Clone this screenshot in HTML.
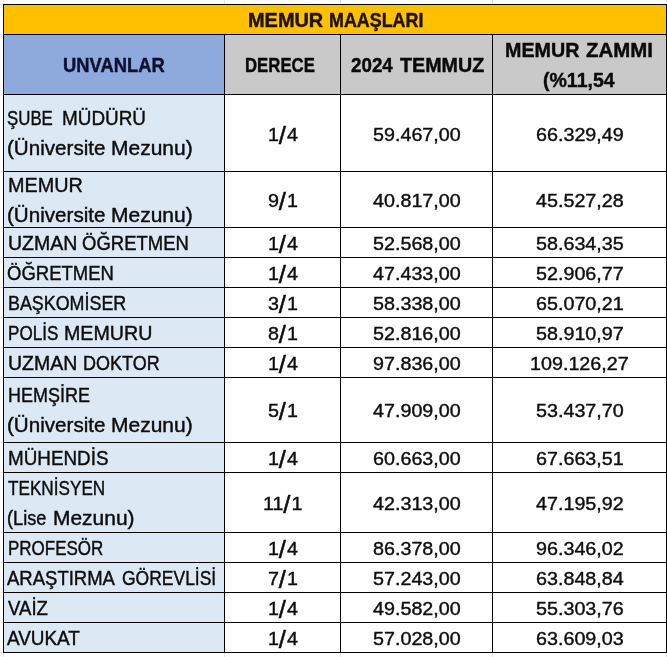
<!DOCTYPE html>
<html><head><meta charset="utf-8"><title>Memur Maaşları</title>
<style>
html,body{margin:0;padding:0;background:#fff;}
body{width:667px;height:657px;position:relative;overflow:hidden;font-family:"Liberation Sans",sans-serif;}
.bg{position:absolute;}
.h{position:absolute;height:1px;background:#000;}
.v{position:absolute;width:1px;background:#000;}
.t{position:absolute;white-space:nowrap;line-height:30px;height:30px;transform-origin:0 21px;font-size:19.0px;-webkit-text-stroke:0.4px currentColor;}
.b{font-weight:bold;}
.s{margin:0 1.25px;display:inline-block;transform:translate(-0.8px,2.4px) scale(1.3,1.25);transform-origin:50% 60%;}
#tx{position:absolute;left:0;top:0;width:667px;height:657px;will-change:transform;}
</style></head><body>

<div class="bg" style="left:3px;top:4px;width:664px;height:31px;background:#FFC000"></div>
<div class="bg" style="left:3px;top:34px;width:222px;height:61px;background:#8EA9DB"></div>
<div class="bg" style="left:224px;top:34px;width:443px;height:61px;background:#C9C9C9"></div>
<div class="bg" style="left:3px;top:94px;width:222px;height:559px;background:#DCE9F5"></div>
<div class="v" style="left:3px;top:0;height:4px;background:#e4e4e4"></div>
<div class="v" style="left:3px;top:653px;height:4px;background:#e4e4e4"></div>
<div class="v" style="left:224px;top:0;height:4px;background:#e4e4e4"></div>
<div class="v" style="left:224px;top:653px;height:4px;background:#e4e4e4"></div>
<div class="v" style="left:340px;top:0;height:4px;background:#e4e4e4"></div>
<div class="v" style="left:340px;top:653px;height:4px;background:#e4e4e4"></div>
<div class="v" style="left:492px;top:0;height:4px;background:#e4e4e4"></div>
<div class="v" style="left:492px;top:653px;height:4px;background:#e4e4e4"></div>
<div class="v" style="left:666px;top:0;height:4px;background:#e4e4e4"></div>
<div class="v" style="left:666px;top:653px;height:4px;background:#e4e4e4"></div>
<div class="h" style="left:0;top:4px;width:3px;background:#e4e4e4"></div>
<div class="h" style="left:0;top:34px;width:3px;background:#e4e4e4"></div>
<div class="h" style="left:0;top:94px;width:3px;background:#e4e4e4"></div>
<div class="h" style="left:0;top:171px;width:3px;background:#e4e4e4"></div>
<div class="h" style="left:0;top:227px;width:3px;background:#e4e4e4"></div>
<div class="h" style="left:0;top:257px;width:3px;background:#e4e4e4"></div>
<div class="h" style="left:0;top:287px;width:3px;background:#e4e4e4"></div>
<div class="h" style="left:0;top:317px;width:3px;background:#e4e4e4"></div>
<div class="h" style="left:0;top:347px;width:3px;background:#e4e4e4"></div>
<div class="h" style="left:0;top:377px;width:3px;background:#e4e4e4"></div>
<div class="h" style="left:0;top:442px;width:3px;background:#e4e4e4"></div>
<div class="h" style="left:0;top:472px;width:3px;background:#e4e4e4"></div>
<div class="h" style="left:0;top:532px;width:3px;background:#e4e4e4"></div>
<div class="h" style="left:0;top:562px;width:3px;background:#e4e4e4"></div>
<div class="h" style="left:0;top:592px;width:3px;background:#e4e4e4"></div>
<div class="h" style="left:0;top:622px;width:3px;background:#e4e4e4"></div>
<div class="h" style="left:0;top:652px;width:3px;background:#e4e4e4"></div>
<div class="h" style="left:3px;top:4px;width:664px"></div>
<div class="h" style="left:3px;top:34px;width:664px"></div>
<div class="h" style="left:3px;top:94px;width:664px"></div>
<div class="h" style="left:3px;top:171px;width:664px"></div>
<div class="h" style="left:3px;top:227px;width:664px"></div>
<div class="h" style="left:3px;top:257px;width:664px"></div>
<div class="h" style="left:3px;top:287px;width:664px"></div>
<div class="h" style="left:3px;top:317px;width:664px"></div>
<div class="h" style="left:3px;top:347px;width:664px"></div>
<div class="h" style="left:3px;top:377px;width:664px"></div>
<div class="h" style="left:3px;top:442px;width:664px"></div>
<div class="h" style="left:3px;top:472px;width:664px"></div>
<div class="h" style="left:3px;top:532px;width:664px"></div>
<div class="h" style="left:3px;top:562px;width:664px"></div>
<div class="h" style="left:3px;top:592px;width:664px"></div>
<div class="h" style="left:3px;top:622px;width:664px"></div>
<div class="h" style="left:3px;top:652px;width:664px"></div>
<div class="v" style="left:3px;top:4px;height:649px"></div>
<div class="v" style="left:224px;top:34px;height:619px"></div>
<div class="v" style="left:340px;top:34px;height:619px"></div>
<div class="v" style="left:492px;top:34px;height:619px"></div>
<div class="v" style="left:666px;top:4px;height:649px"></div>
<div id="tx">
<div class="t b" style="left:248.05px;top:6px;color:#1d1206;transform:scale(1.0486,1.04)">MEMUR</div>
<div class="t b" style="left:329.06px;top:6px;color:#1d1206;transform:scale(0.9418,1.04)">MAAŞLARI</div>
<div class="t b" style="left:63.03px;top:51px;color:#0b1030;transform:scale(0.9673,1.04)">UNVANLAR</div>
<div class="t b" style="left:245.42px;top:51px;color:#0a0a0a;transform:scale(0.8821,1.04)">DERECE</div>
<div class="t b" style="left:350.80px;top:51px;color:#0a0a0a;transform:scale(0.9884,1.04)">2024</div>
<div class="t b" style="left:399.50px;top:51px;color:#0a0a0a;transform:scale(1.0358,1.04)">TEMMUZ</div>
<div class="t b" style="left:505.46px;top:36px;color:#0a0a0a;transform:scale(1.0371,1.04)">MEMUR</div>
<div class="t b" style="left:586.20px;top:36px;color:#0a0a0a;transform:scale(1.0738,1.04)">ZAMMI</div>
<div class="t b" style="left:543.37px;top:66px;color:#0a0a0a;transform:scale(1.0275,1.04)">(%11,54</div>
<div class="t" style="left:7.11px;top:104px;color:#0d0d0d;transform:scale(0.8860,1.04)">ŞUBE</div>
<div class="t" style="left:62.20px;top:104px;color:#0d0d0d;transform:scale(0.9951,1.04)">MÜDÜRÜ</div>
<div class="t" style="left:7.31px;top:134px;color:#0d0d0d;transform:scale(1.0854,1.04)">(Üniversite</div>
<div class="t" style="left:111.20px;top:134px;color:#0d0d0d;transform:scale(1.1042,1.04)">Mezunu)</div>
<div class="t" style="left:7.66px;top:171px;color:#0d0d0d;transform:scale(1.0429,1.04)">MEMUR</div>
<div class="t" style="left:7.31px;top:201px;color:#0d0d0d;transform:scale(1.0854,1.04)">(Üniversite</div>
<div class="t" style="left:111.20px;top:201px;color:#0d0d0d;transform:scale(1.1042,1.04)">Mezunu)</div>
<div class="t" style="left:7.67px;top:229px;color:#0d0d0d;transform:scale(1.0277,1.04)">UZMAN</div>
<div class="t" style="left:82.03px;top:229px;color:#0d0d0d;transform:scale(0.9741,1.04)">ÖĞRETMEN</div>
<div class="t" style="left:7.13px;top:259px;color:#0d0d0d;transform:scale(0.9741,1.04)">ÖĞRETMEN</div>
<div class="t" style="left:7.56px;top:289px;color:#0d0d0d;transform:scale(0.9411,1.04)">BAŞKOMİSER</div>
<div class="t" style="left:7.60px;top:319px;color:#0d0d0d;transform:scale(0.8981,1.04)">POLİS</div>
<div class="t" style="left:64.17px;top:319px;color:#0d0d0d;transform:scale(1.0337,1.04)">MEMURU</div>
<div class="t" style="left:7.67px;top:349px;color:#0d0d0d;transform:scale(1.0262,1.04)">UZMAN</div>
<div class="t" style="left:83.35px;top:349px;color:#0d0d0d;transform:scale(0.9468,1.04)">DOKTOR</div>
<div class="t" style="left:7.65px;top:381px;color:#0d0d0d;transform:scale(0.9459,1.04)">HEMŞİRE</div>
<div class="t" style="left:7.31px;top:411px;color:#0d0d0d;transform:scale(1.0854,1.04)">(Üniversite</div>
<div class="t" style="left:111.20px;top:411px;color:#0d0d0d;transform:scale(1.1042,1.04)">Mezunu)</div>
<div class="t" style="left:7.71px;top:444px;color:#0d0d0d;transform:scale(0.9920,1.04)">MÜHENDİS</div>
<div class="t" style="left:7.90px;top:474px;color:#0d0d0d;transform:scale(0.9028,1.04)">TEKNİSYEN</div>
<div class="t" style="left:7.44px;top:504px;color:#0d0d0d;transform:scale(0.9575,1.04)">(Lise</div>
<div class="t" style="left:53.30px;top:504px;color:#0d0d0d;transform:scale(1.1028,1.04)">Mezunu)</div>
<div class="t" style="left:7.61px;top:534px;color:#0d0d0d;transform:scale(0.8943,1.04)">PROFESÖR</div>
<div class="t" style="left:7.30px;top:564px;color:#0d0d0d;transform:scale(0.9739,1.04)">ARAŞTIRMA</div>
<div class="t" style="left:121.58px;top:564px;color:#0d0d0d;transform:scale(0.9200,1.04)">GÖREVLİSİ</div>
<div class="t" style="left:7.50px;top:594px;color:#0d0d0d;transform:scale(0.9780,1.04)">VAİZ</div>
<div class="t" style="left:7.30px;top:624px;color:#0d0d0d;transform:scale(0.9959,1.04)">AVUKAT</div>
<div class="t" style="left:267.58px;top:120px;color:#0d0d0d;transform:scale(1.0380,0.97)">1<span class="s">/</span>4</div>
<div class="t" style="left:372.83px;top:120px;color:#0d0d0d;transform:scale(1.0380,0.97)">59.467,00</div>
<div class="t" style="left:535.68px;top:120px;color:#0d0d0d;transform:scale(1.0380,0.97)">66.329,49</div>
<div class="t" style="left:267.58px;top:186px;color:#0d0d0d;transform:scale(1.0380,0.97)">9<span class="s">/</span>1</div>
<div class="t" style="left:372.83px;top:186px;color:#0d0d0d;transform:scale(1.0380,0.97)">40.817,00</div>
<div class="t" style="left:535.68px;top:186px;color:#0d0d0d;transform:scale(1.0380,0.97)">45.527,28</div>
<div class="t" style="left:267.58px;top:229px;color:#0d0d0d;transform:scale(1.0380,0.97)">1<span class="s">/</span>4</div>
<div class="t" style="left:372.83px;top:229px;color:#0d0d0d;transform:scale(1.0380,0.97)">52.568,00</div>
<div class="t" style="left:535.68px;top:229px;color:#0d0d0d;transform:scale(1.0380,0.97)">58.634,35</div>
<div class="t" style="left:267.58px;top:259px;color:#0d0d0d;transform:scale(1.0380,0.97)">1<span class="s">/</span>4</div>
<div class="t" style="left:372.83px;top:259px;color:#0d0d0d;transform:scale(1.0380,0.97)">47.433,00</div>
<div class="t" style="left:535.68px;top:259px;color:#0d0d0d;transform:scale(1.0380,0.97)">52.906,77</div>
<div class="t" style="left:267.58px;top:289px;color:#0d0d0d;transform:scale(1.0380,0.97)">3<span class="s">/</span>1</div>
<div class="t" style="left:372.83px;top:289px;color:#0d0d0d;transform:scale(1.0380,0.97)">58.338,00</div>
<div class="t" style="left:535.68px;top:289px;color:#0d0d0d;transform:scale(1.0380,0.97)">65.070,21</div>
<div class="t" style="left:267.58px;top:319px;color:#0d0d0d;transform:scale(1.0380,0.97)">8<span class="s">/</span>1</div>
<div class="t" style="left:372.83px;top:319px;color:#0d0d0d;transform:scale(1.0380,0.97)">52.816,00</div>
<div class="t" style="left:535.68px;top:319px;color:#0d0d0d;transform:scale(1.0380,0.97)">58.910,97</div>
<div class="t" style="left:267.58px;top:349px;color:#0d0d0d;transform:scale(1.0380,0.97)">1<span class="s">/</span>4</div>
<div class="t" style="left:372.83px;top:349px;color:#0d0d0d;transform:scale(1.0380,0.97)">97.836,00</div>
<div class="t" style="left:530.20px;top:349px;color:#0d0d0d;transform:scale(1.0380,0.97)">109.126,27</div>
<div class="t" style="left:267.58px;top:396px;color:#0d0d0d;transform:scale(1.0380,0.97)">5<span class="s">/</span>1</div>
<div class="t" style="left:372.83px;top:396px;color:#0d0d0d;transform:scale(1.0380,0.97)">47.909,00</div>
<div class="t" style="left:535.68px;top:396px;color:#0d0d0d;transform:scale(1.0380,0.97)">53.437,70</div>
<div class="t" style="left:267.58px;top:444px;color:#0d0d0d;transform:scale(1.0380,0.97)">1<span class="s">/</span>4</div>
<div class="t" style="left:372.83px;top:444px;color:#0d0d0d;transform:scale(1.0380,0.97)">60.663,00</div>
<div class="t" style="left:535.68px;top:444px;color:#0d0d0d;transform:scale(1.0380,0.97)">67.663,51</div>
<div class="t" style="left:262.83px;top:489px;color:#0d0d0d;transform:scale(1.0380,0.97)">11<span class="s">/</span>1</div>
<div class="t" style="left:372.83px;top:489px;color:#0d0d0d;transform:scale(1.0380,0.97)">42.313,00</div>
<div class="t" style="left:535.68px;top:489px;color:#0d0d0d;transform:scale(1.0380,0.97)">47.195,92</div>
<div class="t" style="left:267.58px;top:534px;color:#0d0d0d;transform:scale(1.0380,0.97)">1<span class="s">/</span>4</div>
<div class="t" style="left:372.83px;top:534px;color:#0d0d0d;transform:scale(1.0380,0.97)">86.378,00</div>
<div class="t" style="left:535.68px;top:534px;color:#0d0d0d;transform:scale(1.0380,0.97)">96.346,02</div>
<div class="t" style="left:267.58px;top:564px;color:#0d0d0d;transform:scale(1.0380,0.97)">7<span class="s">/</span>1</div>
<div class="t" style="left:372.83px;top:564px;color:#0d0d0d;transform:scale(1.0380,0.97)">57.243,00</div>
<div class="t" style="left:535.68px;top:564px;color:#0d0d0d;transform:scale(1.0380,0.97)">63.848,84</div>
<div class="t" style="left:267.58px;top:594px;color:#0d0d0d;transform:scale(1.0380,0.97)">1<span class="s">/</span>4</div>
<div class="t" style="left:372.83px;top:594px;color:#0d0d0d;transform:scale(1.0380,0.97)">49.582,00</div>
<div class="t" style="left:535.68px;top:594px;color:#0d0d0d;transform:scale(1.0380,0.97)">55.303,76</div>
<div class="t" style="left:267.58px;top:624px;color:#0d0d0d;transform:scale(1.0380,0.97)">1<span class="s">/</span>4</div>
<div class="t" style="left:372.83px;top:624px;color:#0d0d0d;transform:scale(1.0380,0.97)">57.028,00</div>
<div class="t" style="left:535.68px;top:624px;color:#0d0d0d;transform:scale(1.0380,0.97)">63.609,03</div>
</div>
</body></html>
